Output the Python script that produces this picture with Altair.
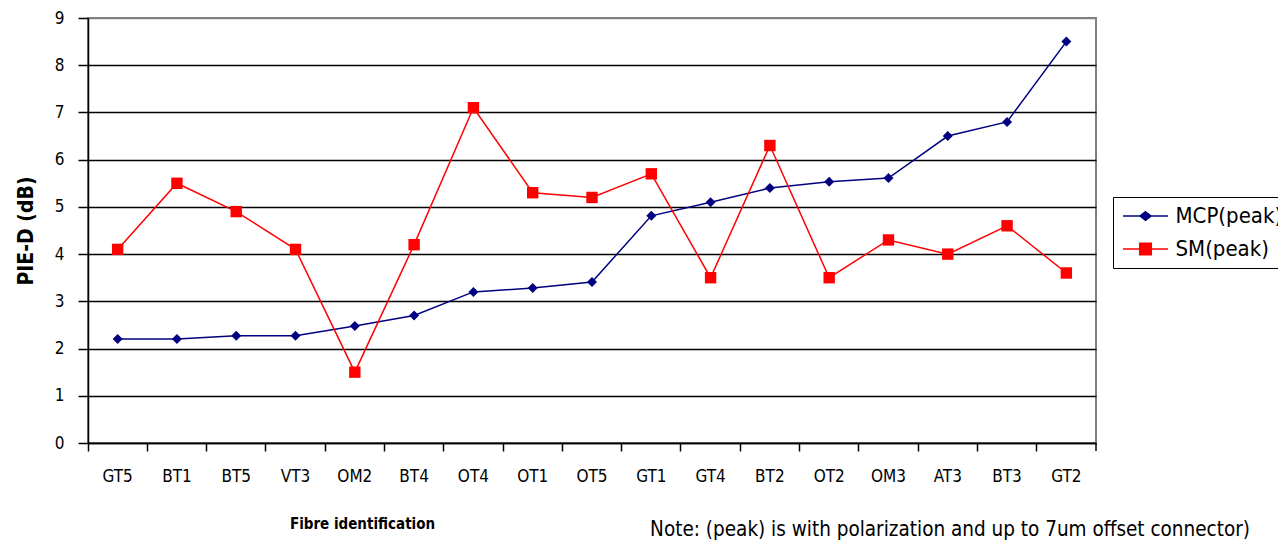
import altair as alt
import pandas as pd

# Fibre identifiers along the x axis
fibres = ["GT5", "BT1", "BT5", "VT3", "OM2", "BT4", "OT4", "OT1", "OT5",
          "GT1", "GT4", "BT2", "OT2", "OM3", "AT3", "BT3", "GT2"]

# PIE-D (dB) per fibre for each measurement
mcp_peak = [2.2, 2.2, 2.27, 2.27, 2.48, 2.7, 3.2, 3.28, 3.41,
            4.81, 5.1, 5.4, 5.53, 5.61, 6.5, 6.8, 8.5]
sm_peak = [4.1, 5.5, 4.9, 4.1, 1.5, 4.2, 7.1, 5.3, 5.2,
           5.7, 3.5, 6.3, 3.5, 4.3, 4.0, 4.6, 3.6]

series_names = ["MCP(peak)", "SM(peak)"]
series_colors = ["#000080", "#FF0000"]

rows = []
for name, vals in zip(series_names, [mcp_peak, sm_peak]):
    for f, v in zip(fibres, vals):
        rows.append({"fibre": f, "series": name, "value": v})
df = pd.DataFrame(rows)

FONT = "Liberation Sans Narrow, DejaVu Sans Condensed, sans-serif"
W, H = 1008, 425

x_enc = alt.X(
    "fibre:N", sort=fibres, title="Fibre identification",
    scale=alt.Scale(type="band", paddingInner=0, paddingOuter=0),
    axis=alt.Axis(
        bandPosition=0, labelAngle=0,
        labelFontSize=17, labelFont=FONT, labelColor="black", labelPadding=17,
        tickSize=8, tickColor="black", tickWidth=1.5,
        domainColor="black", domainWidth=1.5, grid=False,
        titleFont=FONT, titleFontSize=15, titleFontWeight="bold",
        titleAnchor="start", titleAlign="center", titleBaseline="middle",
        titleX=274, titleY=80,
    ),
)
y_enc = alt.Y(
    "value:Q", title="PIE-D (dB)",
    scale=alt.Scale(domain=[0, 9], nice=False, zero=True),
    axis=alt.Axis(
        values=list(range(10)), format="d",
        labelFontSize=17, labelFont=FONT, labelColor="black", labelPadding=14,
        tickSize=10, tickColor="black", tickWidth=1.5,
        domainColor="black", domainWidth=1.5,
        grid=True, gridWidth=1.5,
        gridColor=alt.condition("datum.value == 9", alt.value("#808080"), alt.value("black")),
        titleFont=FONT, titleFontSize=21, titleFontWeight="bold", titlePadding=18,
    ),
)


def series_scale(rng):
    return alt.Scale(domain=series_names, range=rng)


base = alt.Chart(df)

lines = base.mark_line(strokeWidth=1.5).encode(
    x=x_enc, y=y_enc,
    color=alt.Color("series:N", scale=series_scale(series_colors), legend=None),
)

points = base.mark_point(filled=True, opacity=1).encode(
    x=x_enc, y=y_enc,
    color=alt.Color("series:N", scale=series_scale(series_colors), legend=None),
    shape=alt.Shape("series:N", scale=series_scale(["diamond", "square"]), legend=None),
    size=alt.Size("series:N", scale=series_scale([100, 130]), legend=None),
)

# Legend symbols: a line segment with the series marker on it
legend_paths = [
    "M-2.25,0H2.25M0,-0.42L0.55,0L0,0.42L-0.55,0Z",
    "M-2.25,0H2.25M-0.58,-0.58H0.58V0.58H-0.58Z",
]
legend_layer = base.transform_filter("false").mark_point(filled=False, opacity=1, strokeWidth=1.5).encode(
    x=x_enc, y=y_enc,
    color=alt.Color("series:N", scale=series_scale(series_colors), legend=alt.Legend(title=None)),
    fill=alt.Fill("series:N", scale=series_scale(series_colors), legend=alt.Legend(title=None)),
    shape=alt.Shape("series:N", scale=series_scale(legend_paths), legend=alt.Legend(title=None)),
)

# Closing tick at the right end of the category axis
end_tick = alt.Chart(pd.DataFrame({"a": [0]})).mark_rule(color="black", strokeWidth=1.5).encode(
    x=alt.value(W), y=alt.value(H), y2=alt.value(H + 8)
)

note = alt.Chart(pd.DataFrame({"t": ["Note: (peak) is with polarization and up to 7um offset connector)"]})).mark_text(
    align="right", baseline="middle", font=FONT, fontSize=20.5, color="black"
).encode(x=alt.value(1250 - 88), y=alt.value(530 - 18), text="t:N")

chart = alt.layer(lines, points, legend_layer, end_tick, note).resolve_scale(
    color="independent", fill="independent", shape="independent", size="independent"
).properties(
    width=W, height=H,
    autosize=alt.AutoSizeParams(type="none"),
    padding={"left": 88, "top": 18, "right": 182, "bottom": 105},
).configure_view(
    stroke="#808080", strokeWidth=2
).configure_legend(
    orient="none", legendX=1025, legendY=179,
    strokeColor="black", padding=8,
    symbolSize=400, symbolStrokeWidth=1.5, symbolOffset=13.5,
    labelOffset=19, labelFont=FONT, labelFontSize=22, labelColor="black",
    rowPadding=11,
)

chart.save("out.html", embed_options={"renderer": "svg", "actions": False})
